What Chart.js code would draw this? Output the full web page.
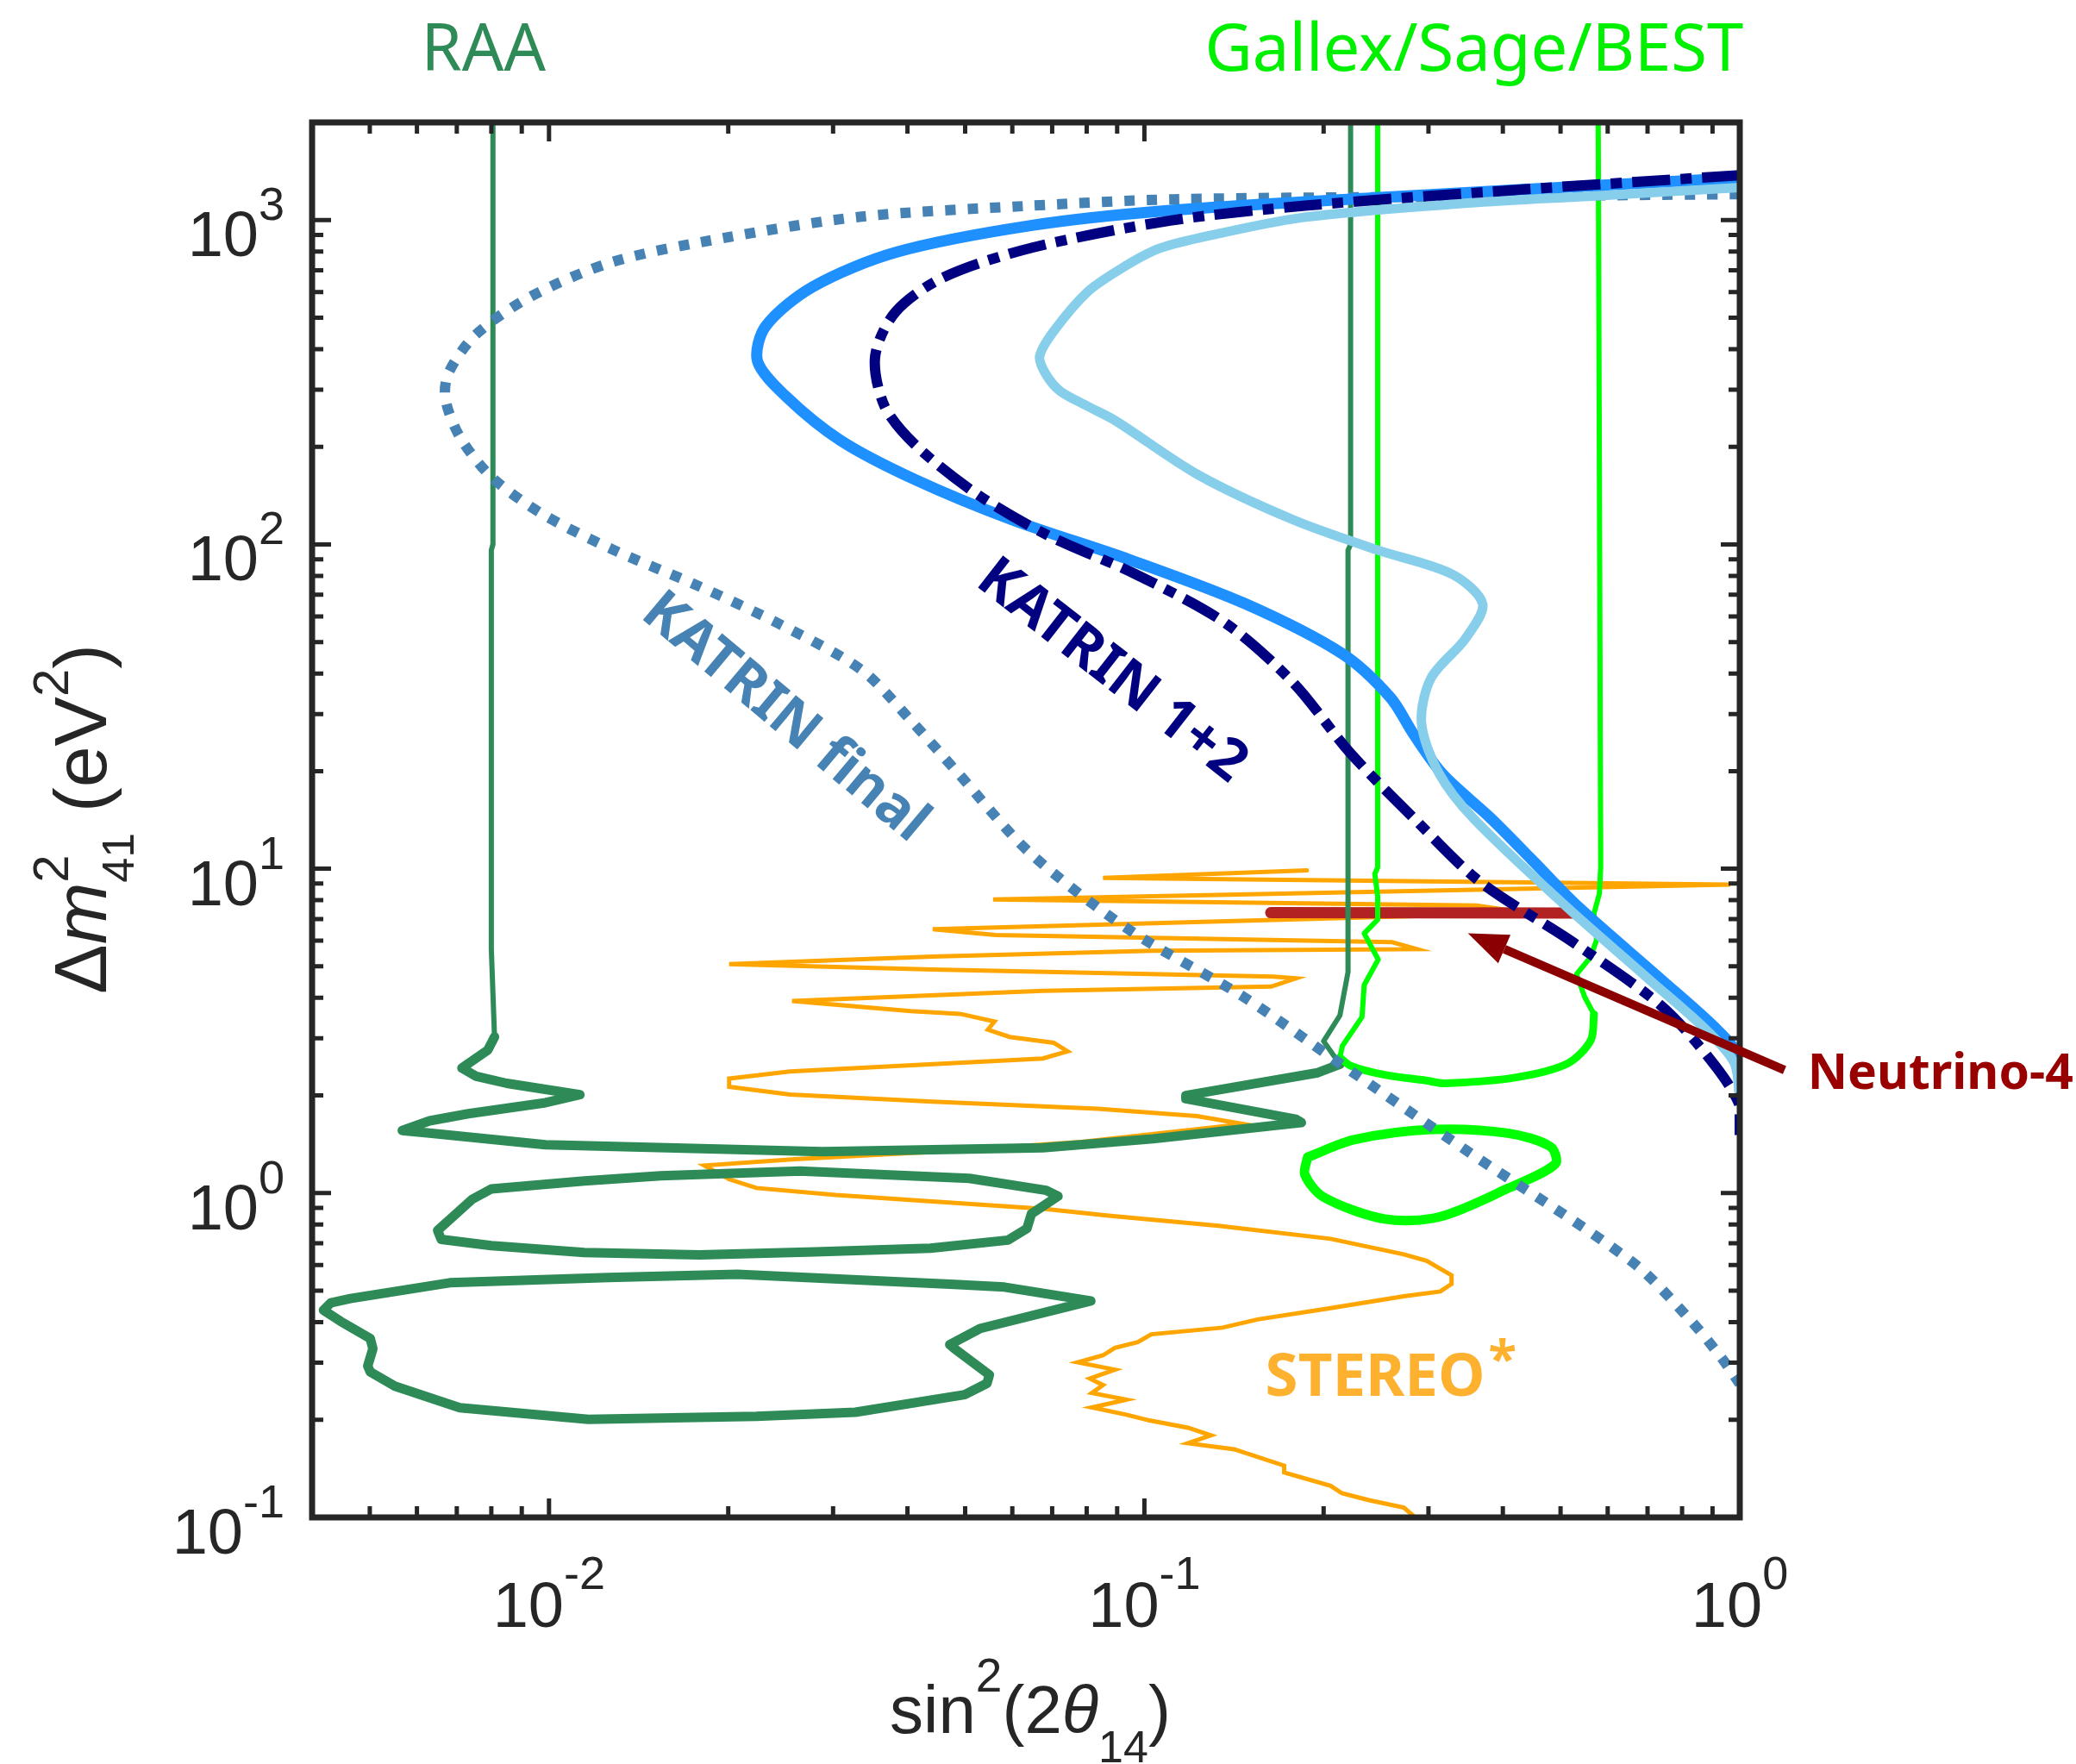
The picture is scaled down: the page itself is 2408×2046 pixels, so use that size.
<!DOCTYPE html>
<html>
<head>
<meta charset="utf-8">
<script src="https://cdn.jsdelivr.net/npm/chart.js@4.4.1/dist/chart.umd.min.js"></script>
<style>
  html, body { margin: 0; padding: 0; background: #fff; }
  canvas { display: block; }
</style>
</head>
<body>
<canvas id="chart" width="2408" height="2046"></canvas>
<script>
// axes
const xRange = [0.004, 1];
const yRange = [0.1, 2000];
const xMajor = [0.01, 0.1, 1];
const xMajorExp = ["-2", "-1", "0"];
const yMajor = [0.1, 1, 10, 100, 1000];
const yMajorExp = ["-1", "0", "1", "2", "3"];

// curves as [sin^2(2theta), dm^2] pairs
const katrin12 = [[1.0,1375],[0.4217,1239],[0.188,1109],[0.1105,996],[0.0648,822],[0.046,666],[0.0382,521],[0.0353,380],[0.0366,267],[0.0413,202],[0.0526,142],[0.0686,107],[0.0967,80.9],[0.137,57.1],[0.178,37.4],[0.221,22.9],[0.288,13.9],[0.366,9.12],[0.525,5.93],[0.738,3.78],[0.903,2.51],[1.0,1.86],[1.0,1.51]];
const katrinBlue = [[1.0,1350],[0.42,1239],[0.2457,1172],[0.1105,1071],[0.0648,963],[0.0382,795],[0.0277,622],[0.0231,470],[0.0224,367],[0.025,286],[0.0309,209],[0.0413,158],[0.06,119],[0.0943,89.8],[0.148,65.5],[0.215,46.0],[0.259,33.7],[0.2836,25.9],[0.3175,19.5],[0.382,14.3],[0.449,10.6],[0.532,7.71],[0.738,4.55],[0.903,3.27],[0.99,2.69],[1.0,2.22]];
const katrinLight = [[1.0,1260],[0.572,1187],[0.35,1128],[0.184,1018],[0.1237,881],[0.1048,811],[0.091,705],[0.0802,600],[0.0704,454],[0.0667,380],[0.0683,335],[0.0722,297],[0.0802,267],[0.0893,241],[0.123,164],[0.178,119],[0.2455,96.3],[0.329,80.9],[0.37,65.5],[0.346,51.2],[0.303,38.7],[0.292,28.2],[0.312,19.8],[0.357,14.3],[0.508,7.73],[0.705,4.55],[0.884,3.15],[0.98,2.51],[1.0,1.9]];
const katrinFinal = [[1.0,1202],[0.334,1181],[0.112,1159],[0.0632,1105],[0.0335,1025],[0.0197,881],[0.01286,745],[0.00935,583],[0.00754,444],[0.00678,338],[0.0067,280],[0.0071,213],[0.00802,161],[0.00975,124],[0.01286,96],[0.01766,75],[0.0243,57],[0.0335,41],[0.0405,28.7],[0.0489,19.5],[0.0642,11.2],[0.0948,6.44],[0.147,4.02],[0.213,2.51],[0.346,1.36],[0.66,0.613],[0.819,0.413],[0.931,0.311],[1.0,0.258]];

const gallexLeft = [[0.2465,3000],[0.2465,10.1],[0.2438,9.64],[0.2465,8.22],[0.2465,6.97],[0.234,6.32],[0.247,5.25],[0.234,4.38],[0.232,3.49],[0.215,2.84],[0.213,2.62]];
const gallexBottom = [[0.213,2.62],[0.222,2.47],[0.252,2.32],[0.299,2.22],[0.319,2.18],[0.419,2.27],[0.514,2.51],[0.562,2.96],[0.569,3.56]];
const gallexRight = [[0.569,3.56],[0.549,4.02],[0.532,4.73],[0.562,5.35],[0.575,6.05],[0.569,7.27],[0.581,8.38],[0.584,10.1],[0.578,3000]];
const gallexIsland = [[0.188,1.29],[0.186,1.14],[0.2,0.972],[0.2533,0.832],[0.3126,0.844],[0.408,1.034],[0.49,1.23],[0.481,1.39],[0.408,1.53],[0.303,1.57],[0.225,1.46],[0.188,1.29]];

const raaLeft = [[0.00805,3000],[0.00805,100],[0.008,96],[0.008,5.66],[0.0081,3.03]];
const raaBottom = [[0.0081,3.03],[0.00789,2.76],[0.00714,2.43],[0.00755,2.29],[0.00849,2.18],[0.01127,2.01],[0.00987,1.9],[0.00732,1.757],[0.0063,1.67],[0.00567,1.56],[0.0063,1.53],[0.00986,1.41],[0.0288,1.342],[0.0675,1.38],[0.1034,1.47],[0.1835,1.65],[0.1797,1.69],[0.1174,1.953],[0.1174,2.0],[0.1955,2.35],[0.213,2.495]];
const raaRight = [[0.213,2.495],[0.2,2.94],[0.213,3.53],[0.2198,4.8],[0.2198,96],[0.222,100],[0.222,3000]];
const raaIsland1 = [[0.0065,0.767],[0.00743,0.957],[0.008,1.03],[0.01146,1.09],[0.0154,1.13],[0.0264,1.17],[0.0508,1.11],[0.0684,1.02],[0.0716,0.978],[0.0646,0.863],[0.0635,0.778],[0.059,0.716],[0.0437,0.676],[0.028,0.659],[0.0179,0.645],[0.01146,0.656],[0.008,0.689],[0.00659,0.72],[0.0065,0.767]];
const raaIsland2 = [[0.00418,0.4356],[0.0043,0.459],[0.00464,0.473],[0.00681,0.529],[0.01257,0.549],[0.0207,0.562],[0.048,0.523],[0.0582,0.513],[0.0813,0.465],[0.0529,0.382],[0.0471,0.341],[0.048,0.331],[0.0549,0.275],[0.0544,0.259],[0.0499,0.239],[0.0327,0.211],[0.0223,0.205],[0.01164,0.2006],[0.00708,0.218],[0.00551,0.254],[0.00501,0.281],[0.00496,0.293],[0.00506,0.331],[0.00501,0.356],[0.00447,0.402],[0.00418,0.4356]];

const neutrino4 = [[0.163,7.32],[0.526,7.3]];

const stereo = [[0.285,0.1],[0.2727,0.1072],[0.2384,0.113],[0.2147,0.1187],[0.2055,0.1251],[0.1717,0.1375],[0.1717,0.1444],[0.1415,0.1622],[0.1184,0.1694],[0.1293,0.179],[0.1184,0.189],[0.102,0.199],[0.0933,0.2073],[0.0816,0.2183],[0.0933,0.2308],[0.0816,0.242],[0.0852,0.256],[0.081,0.268],[0.0892,0.2855],[0.0773,0.3006],[0.0852,0.316],[0.0892,0.3332],[0.0975,0.347],[0.1027,0.367],[0.1353,0.3847],[0.1549,0.4077],[0.2023,0.44],[0.2727,0.4808],[0.3141,0.4974],[0.328,0.5245],[0.328,0.5578],[0.2978,0.6183],[0.2727,0.6475],[0.2055,0.7228],[0.1332,0.7924],[0.0878,0.851],[0.0682,0.893],[0.0303,0.986],[0.0223,1.037],[0.02007,1.103],[0.01824,1.216],[0.0259,1.272],[0.0441,1.339],[0.0783,1.438],[0.1468,1.632],[0.1225,1.728],[0.0835,1.82],[0.0441,1.914],[0.0254,2.014],[0.02007,2.128],[0.02007,2.254],[0.0254,2.371],[0.0675,2.6],[0.0743,2.735],[0.0704,2.908],[0.0594,3.03],[0.0546,3.19],[0.056,3.38],[0.049,3.57],[0.0405,3.64],[0.0256,3.91],[0.0675,4.2],[0.1633,4.33],[0.1797,4.59],[0.165,4.65],[0.0441,4.89],[0.02007,5.08],[0.0441,5.36],[0.1033,5.59],[0.287,5.65],[0.2606,5.94],[0.0563,6.25],[0.0441,6.51],[0.44,7.3],[0.3614,7.7],[0.0557,8.04],[0.964,8.94],[0.0852,9.37],[0.1875,9.88]];

// arrow to Neutrino-4, in data units
const arrowTail = [1.189, 2.396];
const arrowTip = [0.3495, 6.32];

const AXIS_FONT = '"Liberation Sans", Arial, sans-serif';
const LABEL_FONT = '"Noto Sans", "Open Sans", sans-serif';
const INK = "#262626";

const pts = arr => arr.map(([x, y]) => ({ x, y }));

function curve(data, color, width, extra) {
  return Object.assign({
    data: pts(data),
    borderColor: color,
    borderWidth: width,
    pointRadius: 0,
    fill: false,
    tension: 0,
    borderJoinStyle: "round",
    borderCapStyle: "round",
  }, extra || {});
}

function fontOf(r, fam) {
  return `${r.italic ? "italic " : ""}${r.bold ? "bold " : ""}${r.size}px ${r.family || fam}`;
}

function runsWidth(ctx, runs, fam) {
  let w = 0;
  runs.forEach(r => {
    ctx.font = fontOf(r, fam);
    if (!r.stack) w += ctx.measureText(r.t).width;
  });
  return w;
}

function drawRuns(ctx, runs, x, y, fam) {
  let cx = x;
  runs.forEach(r => {
    ctx.font = fontOf(r, fam);
    ctx.fillText(r.t, cx, y + (r.dy || 0));
    if (!r.stack) cx += ctx.measureText(r.t).width;
  });
}

function minorTicks(lo, hi) {
  const out = [];
  for (let e = Math.floor(Math.log10(lo)); e <= Math.ceil(Math.log10(hi)); e++) {
    for (let k = 2; k < 10; k++) {
      const v = k * Math.pow(10, e);
      if (v > lo * 1.0001 && v < hi * 0.9999) out.push(v);
    }
  }
  return out;
}

const frame = {
  id: "frame",
  afterDatasetsDraw(chart) {
    const { ctx, chartArea: a, scales: { x, y } } = chart;
    ctx.save();
    ctx.strokeStyle = INK;
    ctx.lineCap = "butt";

    ctx.lineWidth = 5;
    const xt = (v, len) => {
      const p = x.getPixelForValue(v);
      ctx.beginPath();
      ctx.moveTo(p, a.bottom); ctx.lineTo(p, a.bottom - len);
      ctx.moveTo(p, a.top); ctx.lineTo(p, a.top + len);
      ctx.stroke();
    };
    const yt = (v, len) => {
      const p = y.getPixelForValue(v);
      ctx.beginPath();
      ctx.moveTo(a.left, p); ctx.lineTo(a.left + len, p);
      ctx.moveTo(a.right, p); ctx.lineTo(a.right - len, p);
      ctx.stroke();
    };
    minorTicks(xRange[0], xRange[1]).forEach(v => xt(v, 13));
    xMajor.forEach(v => xt(v, 22));
    minorTicks(yRange[0], yRange[1]).forEach(v => yt(v, 13));
    yMajor.forEach(v => yt(v, 22));

    ctx.lineWidth = 7;
    ctx.strokeRect(a.left, a.top, a.right - a.left, a.bottom - a.top);
    ctx.restore();
  },
  afterDraw(chart) {
    const { ctx, chartArea: a, scales: { x, y } } = chart;
    ctx.save();
    ctx.fillStyle = INK;
    ctx.textAlign = "left";
    ctx.textBaseline = "alphabetic";

    // tick labels
    xMajor.forEach((v, i) => {
      const runs = [{ t: "10", size: 74 }, { t: xMajorExp[i], size: 54, dy: -44 }];
      const w = runsWidth(ctx, runs, AXIS_FONT);
      drawRuns(ctx, runs, x.getPixelForValue(v) - w / 2, a.bottom + 127, AXIS_FONT);
    });
    yMajor.forEach((v, i) => {
      const runs = [{ t: "10", size: 74 }, { t: yMajorExp[i], size: 54, dy: -42 }];
      const w = runsWidth(ctx, runs, AXIS_FONT);
      drawRuns(ctx, runs, a.left - 32 - w, y.getPixelForValue(v) + 42, AXIS_FONT);
    });

    // x title
    const xt = [
      { t: "sin", size: 78 }, { t: "2", size: 55, dy: -48 }, { t: "(2", size: 78 },
      { t: "\u03b8", size: 78, italic: true }, { t: "14", size: 52, dy: 34 }, { t: ")", size: 78 },
    ];
    const xw = runsWidth(ctx, xt, AXIS_FONT);
    drawRuns(ctx, xt, (a.left + a.right) / 2 + 5 - xw / 2, 2010, AXIS_FONT);

    // y title
    const ytl = [
      { t: "\u0394", size: 86 }, { t: "m", size: 86, italic: true },
      { t: "2", size: 58, dy: -44, stack: true }, { t: "41", size: 52, dy: 32 },
      { t: " (eV", size: 86 }, { t: "2", size: 58, dy: -44 }, { t: ")", size: 86 },
    ];
    const yw = runsWidth(ctx, ytl, AXIS_FONT);
    ctx.save();
    ctx.translate(123, 950);
    ctx.rotate(-Math.PI / 2);
    drawRuns(ctx, ytl, -yw / 2, 0, AXIS_FONT);
    ctx.restore();

    // experiment labels above the frame
    ctx.font = `76px ${LABEL_FONT}`;
    ctx.fillStyle = "#2E8B57";
    ctx.textAlign = "center";
    ctx.fillText("RAA", x.getPixelForValue(0.00776), a.top - 60);
    ctx.fillStyle = "#00F000";
    ctx.textAlign = "left";
    ctx.fillText("Gallex/Sage/BEST", x.getPixelForValue(0.1263), a.top - 60);

    // rotated KATRIN labels
    const rot = (text, color, size, vx, vy, deg) => {
      ctx.save();
      ctx.translate(x.getPixelForValue(vx), y.getPixelForValue(vy));
      ctx.rotate(deg * Math.PI / 180);
      ctx.font = `bold ${size}px ${LABEL_FONT}`;
      ctx.fillStyle = color;
      ctx.textAlign = "center";
      ctx.textBaseline = "middle";
      ctx.fillText(text, 0, 0);
      ctx.restore();
    };
    rot("KATRIN final", "#4682B4", 66, 0.0249, 29.2, 40);
    rot("KATRIN 1+2", "#000080", 66, 0.0881, 40.6, 38);

    // STEREO*
    ctx.textAlign = "left";
    ctx.textBaseline = "alphabetic";
    ctx.fillStyle = "#FDB12E";
    ctx.font = `bold 69px ${LABEL_FONT}`;
    const sx = x.getPixelForValue(0.1596), sy = y.getPixelForValue(0.237);
    ctx.fillText("STEREO", sx, sy);
    const sw = ctx.measureText("STEREO").width;
    ctx.font = `bold 60px ${LABEL_FONT}`;
    ctx.fillText("*", sx + sw + 4, sy - 22);

    // Neutrino-4 arrow and label
    const tx = x.getPixelForValue(arrowTail[0]), ty = y.getPixelForValue(arrowTail[1]);
    const hx = x.getPixelForValue(arrowTip[0]), hy = y.getPixelForValue(arrowTip[1]);
    const ang = Math.atan2(hy - ty, hx - tx);
    const hl = 46, hw = 18;
    const bx = hx - hl * Math.cos(ang), by = hy - hl * Math.sin(ang);
    ctx.strokeStyle = "#8B0000";
    ctx.fillStyle = "#8B0000";
    ctx.lineWidth = 10;
    ctx.lineCap = "butt";
    ctx.beginPath();
    ctx.moveTo(tx, ty);
    ctx.lineTo(bx, by);
    ctx.stroke();
    ctx.beginPath();
    ctx.moveTo(hx, hy);
    ctx.lineTo(bx + hw * Math.sin(ang), by - hw * Math.cos(ang));
    ctx.lineTo(bx - hw * Math.sin(ang), by + hw * Math.cos(ang));
    ctx.closePath();
    ctx.fill();

    ctx.fillStyle = "#990000";
    ctx.font = `bold 57px ${LABEL_FONT}`;
    ctx.fillText("Neutrino-4", x.getPixelForValue(1.30), y.getPixelForValue(2.10));
    ctx.restore();
  },
};

// first dataset is drawn on top
new Chart(document.getElementById("chart"), {
  type: "line",
  data: {
    datasets: [
      curve(katrin12, "#000080", 12, { borderDash: [44, 12, 13, 12], borderCapStyle: "butt", tension: 0.3 }),
      curve(katrinLight, "#87CEEB", 11, { tension: 0.3 }),
      curve(katrinBlue, "#1E90FF", 13, { tension: 0.3 }),
      curve(katrinFinal, "#4682B4", 12, { borderDash: [12, 14], borderCapStyle: "butt", tension: 0.3 }),
      curve(gallexLeft, "#00FF00", 6),
      curve(gallexBottom, "#00FF00", 9, { tension: 0.3 }),
      curve(gallexRight, "#00FF00", 6),
      curve(gallexIsland, "#00FF00", 11, { tension: 0.3 }),
      curve(raaLeft, "#2E8B57", 6),
      curve(raaBottom, "#2E8B57", 11),
      curve(raaRight, "#2E8B57", 6),
      curve(raaIsland1, "#2E8B57", 11),
      curve(raaIsland2, "#2E8B57", 11),
      curve(neutrino4, "#B22222", 13),
      curve(stereo, "#FFA500", 5, { borderJoinStyle: "miter" }),
    ],
  },
  options: {
    responsive: false,
    animation: false,
    events: [],
    devicePixelRatio: 1,
    layout: { padding: { left: 362, right: 390, top: 142, bottom: 286 } },
    plugins: { legend: { display: false }, tooltip: { enabled: false } },
    scales: {
      x: { type: "logarithmic", min: xRange[0], max: xRange[1], display: false },
      y: { type: "logarithmic", min: yRange[0], max: yRange[1], display: false },
    },
  },
  plugins: [frame],
});
</script>
</body>
</html>
